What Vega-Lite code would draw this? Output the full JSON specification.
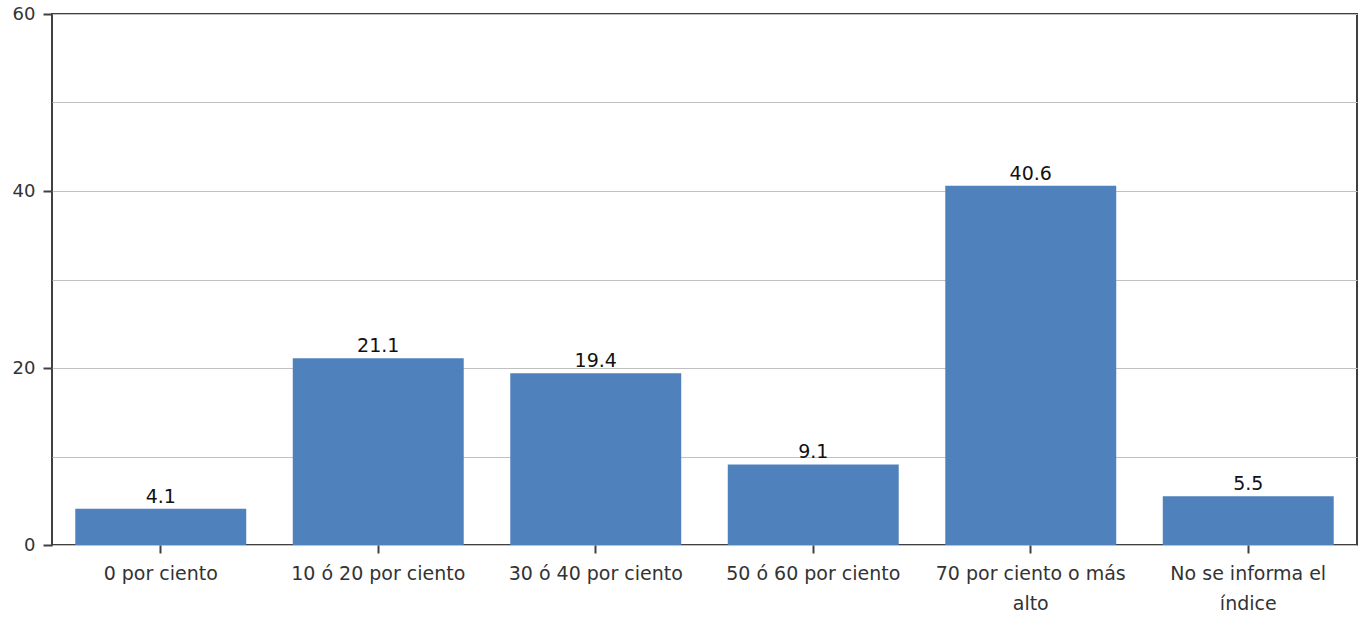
{
  "$schema": "https://vega.github.io/schema/vega-lite/v6.json",
  "width": 1305,
  "height": 531,
  "autosize": {"type": "none"},
  "padding": {"left": 52, "top": 14, "right": 9, "bottom": 72},
  "background": "white",
  "config": {
    "font": "DejaVu Sans",
    "view": {"stroke": "#404040", "strokeWidth": 2}
  },
  "data": {
    "values": [
      {"categoria": "0 por ciento", "valor": 4.1},
      {"categoria": "10 ó 20 por ciento", "valor": 21.1},
      {"categoria": "30 ó 40 por ciento", "valor": 19.4},
      {"categoria": "50 ó 60 por ciento", "valor": 9.1},
      {"categoria": "70 por ciento o más alto", "valor": 40.6},
      {"categoria": "No se informa el índice", "valor": 5.5}
    ]
  },
  "encoding": {
    "x": {
      "field": "categoria",
      "type": "nominal",
      "sort": null,
      "scale": {"paddingInner": 0.214, "paddingOuter": 0.107},
      "axis": {
        "title": null,
        "labelAngle": 0,
        "labelFont": "DejaVu Sans",
        "labelFontSize": 19,
        "labelColor": "#333333",
        "labelPadding": 11,
        "labelLineHeight": 30,
        "labelLimit": 300,
        "labelExpr": "datum.value == '70 por ciento o más alto' ? ['70 por ciento o más', 'alto'] : datum.value == 'No se informa el índice' ? ['No se informa el', 'índice'] : datum.value",
        "domain": false,
        "ticks": true,
        "tickColor": "#404040",
        "tickSize": 8,
        "tickWidth": 2,
        "grid": false
      }
    },
    "y": {
      "field": "valor",
      "type": "quantitative",
      "scale": {"domain": [0, 60], "nice": false},
      "axis": {
        "title": null,
        "values": [0, 10, 20, 30, 40, 50, 60],
        "labelExpr": "datum.value % 20 == 0 ? datum.label : ''",
        "labelFont": "DejaVu Sans",
        "labelFontSize": 18,
        "labelColor": "#333333",
        "labelPadding": 8,
        "domain": false,
        "tickColor": {"condition": {"test": "datum.value % 20 == 0", "value": "#404040"}, "value": "transparent"},
        "tickSize": 9,
        "tickWidth": 2,
        "gridColor": "#c0c0c0",
        "gridWidth": 1
      }
    }
  },
  "layer": [
    {
      "mark": {"type": "bar", "color": "#4f81bd"}
    },
    {
      "mark": {
        "type": "text",
        "baseline": "bottom",
        "dy": -2,
        "font": "DejaVu Sans",
        "fontSize": 19,
        "color": "#111111"
      },
      "encoding": {
        "text": {"field": "valor", "type": "quantitative", "format": ".1f"}
      }
    }
  ]
}
